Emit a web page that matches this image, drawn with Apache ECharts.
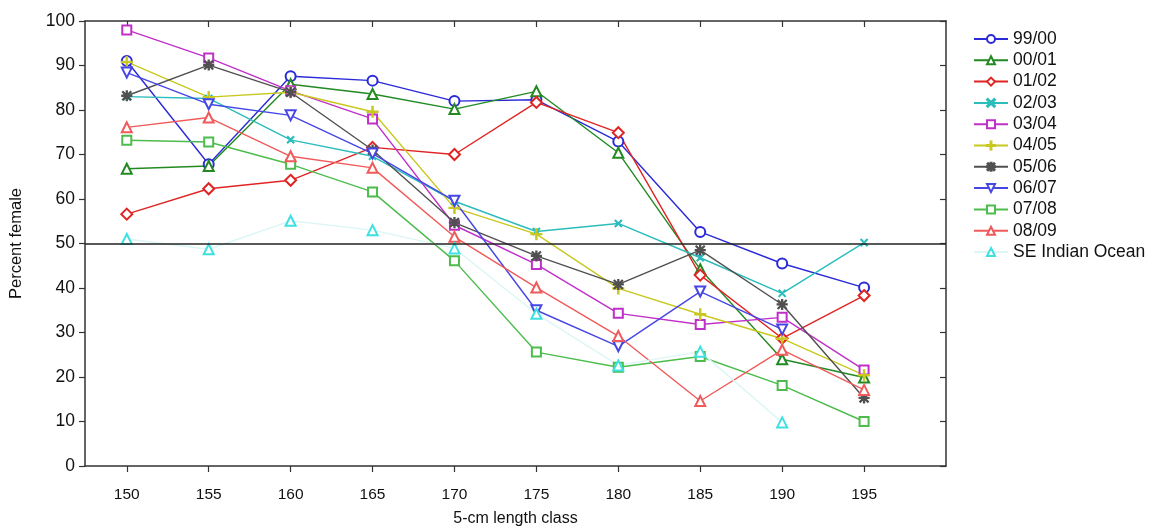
<!DOCTYPE html>
<html>
<head>
<meta charset="utf-8">
<script src="https://cdn.jsdelivr.net/npm/echarts@6/dist/echarts.min.js"></script>
<style>
    html, body { margin: 0; padding: 0; background: #fff; }
    #main { width: 1164px; height: 532px; }
</style>
</head>
<body>
<div id="main"></div>
<script>
    // 5-cm length classes
    var lengths = [150, 155, 160, 165, 170, 175, 180, 185, 190, 195];
    var yTicks = [0, 10, 20, 30, 40, 50, 60, 70, 80, 90, 100];

    // percent female per season
    var s9900 = [91, 67.8, 87.6, 86.6, 82, 82.3, 72.9, 52.6, 45.5, 40.1];
    var s0001 = [66.8, 67.4, 85.8, 83.6, 80.2, 84.2, 70.4, 44.2, 24, 19.9];
    var s0102 = [56.6, 62.3, 64.2, 71.6, 70, 81.7, 74.9, 42.9, 28.7, 38.3];
    var s0203 = [83, 82.6, 73.3, 69.6, 59.5, 52.7, 54.5, 46.8, 38.8, 50.2];
    var s0304 = [98, 91.7, 84.3, 78, 54.1, 45.3, 34.3, 31.8, 33.4, 21.6];
    var s0405 = [90.8, 82.9, 84, 79.6, 58, 52.1, 39.9, 34.1, 28.6, 20.4];
    var s0506 = [83.2, 90.1, 84, 71, 54.7, 47.2, 40.8, 48.5, 36.3, 15.3];
    var s0607 = [88.4, 81.3, 78.8, 70.2, 59.6, 35, 26.9, 39.2, 30.7, null];
    var s0708 = [73.2, 72.8, 67.8, 61.6, 46.1, 25.6, 22.2, 24.6, 18.1, 10];
    var s0809 = [76.1, 78.3, 69.6, 67, 51.5, 40.1, 29.2, 14.6, 26.1, 17.1];
    var seIndian = [51, 48.7, 55.1, 53, 48.9, 34.2, 22.6, 25.7, 9.8, null];

    var crossPath = 'path://M0,1L1,0L10,9L9,10ZM9,0L10,1L1,10L0,9Z';
    var plusPath = 'path://M4.4,0H5.6V4.4H10V5.6H5.6V10H4.4V5.6H0V4.4H4.4Z';
    var starPath = 'path://M4.4,0H5.6V4.4H10V5.6H5.6V10H4.4V5.6H0V4.4H4.4ZM0.5,1.3L1.3,0.5L9.5,8.7L8.7,9.5ZM8.7,0.5L9.5,1.3L1.3,9.5L0.5,8.7Z';

    var seriesDefs = [
        { name: '99/00', data: s9900, color: '#2a2ad8', symbol: 'emptyCircle', size: 10 },
        { name: '00/01', data: s0001, color: '#238a23', symbol: 'emptyTriangle', size: 10 },
        { name: '01/02', data: s0102, color: '#e02424', symbol: 'emptyDiamond', size: 11 },
        { name: '02/03', data: s0203, color: '#2bbcbc', symbol: crossPath, size: 7 },
        { name: '03/04', data: s0304, color: '#c02fc8', symbol: 'emptyRect', size: 9 },
        { name: '04/05', data: s0405, color: '#c8c81e', symbol: plusPath, size: 11 },
        { name: '05/06', data: s0506, color: '#505050', symbol: starPath, size: 10 },
        { name: '06/07', data: s0607, color: '#4646e4', symbol: 'emptyTriangle', size: 10, rotate: 180 },
        { name: '07/08', data: s0708, color: '#4cbc4c', symbol: 'emptyRect', size: 9 },
        { name: '08/09', data: s0809, color: '#f05a5a', symbol: 'emptyTriangle', size: 10 },
        { name: 'SE Indian Ocean', data: seIndian, color: '#3ee0e0', symbol: 'emptyTriangle', size: 10, lineColor: '#dcf6f6' }
    ];

    var series = seriesDefs.map(function (d) {
        return {
            name: d.name,
            type: 'line',
            xAxisIndex: 0,
            yAxisIndex: 0,
            data: lengths.map(function (x, i) { return [x, d.data[i]]; }),
            symbol: d.symbol,
            symbolSize: d.size,
            symbolRotate: d.rotate || 0,
            showSymbol: true,
            connectNulls: false,
            lineStyle: { color: d.lineColor || d.color, width: 1.4 },
            itemStyle: { color: d.color, borderColor: d.color, borderWidth: 1.1 },
            emphasis: { disabled: true }
        };
    });

    // the 50% reference line
    series[0].markLine = {
        silent: true,
        symbol: 'none',
        label: { show: false },
        lineStyle: { color: '#222', type: 'solid', width: 1.5 },
        data: [{ yAxis: 50 }]
    };

    var chart = echarts.init(document.getElementById('main'));
    var option = {
        animation: false,
        backgroundColor: '#fff',
        textStyle: { fontFamily: 'Liberation Sans, Arial, sans-serif' },
        grid: { left: 84, right: 218, top: 21, bottom: 65 },
        legend: {
            orient: 'vertical',
            left: 968,
            top: 25,
            itemWidth: 34,
            itemHeight: 10,
            itemGap: 3.3,
            textStyle: { fontSize: 17.5, color: '#111', lineHeight: 17 },
            data: seriesDefs.map(function (d) { return d.name; })
        },
        xAxis: [{
            type: 'value',
            min: 147.45,
            max: 200,
            name: '5-cm length class',
            nameLocation: 'middle',
            nameGap: 45,
            nameTextStyle: { fontSize: 16, color: '#111' },
            axisLine: { show: true, onZero: false, lineStyle: { color: '#333', width: 1.5 } },
            axisTick: { show: true, length: 6, customValues: lengths, lineStyle: { color: '#333', width: 1.2 } },
            axisLabel: { customValues: lengths, fontSize: 15.5, color: '#111', margin: 21 },
            splitLine: { show: false }
        }, {
            type: 'value',
            position: 'top',
            min: 147.45,
            max: 200,
            axisLine: { show: true, onZero: false, lineStyle: { color: '#333', width: 1.5 } },
            axisTick: { show: true, inside: true, length: 6, customValues: lengths, lineStyle: { color: '#333', width: 1.2 } },
            axisLabel: { show: false },
            splitLine: { show: false }
        }],
        yAxis: [{
            type: 'value',
            min: 0,
            max: 100,
            interval: 10,
            name: 'Percent female',
            nameLocation: 'middle',
            nameGap: 60,
            nameTextStyle: { fontSize: 16.5, color: '#111' },
            axisLine: { show: true, lineStyle: { color: '#333', width: 1.5 } },
            axisTick: { show: true, length: 6, lineStyle: { color: '#333', width: 1.2 } },
            axisLabel: { fontSize: 17.5, color: '#111', margin: 10 },
            splitLine: { show: false }
        }, {
            type: 'value',
            position: 'right',
            min: 0,
            max: 100,
            interval: 10,
            axisLine: { show: true, lineStyle: { color: '#333', width: 1.5 } },
            axisTick: { show: true, inside: true, length: 6, lineStyle: { color: '#333', width: 1.2 } },
            axisLabel: { show: false },
            splitLine: { show: false }
        }],
        series: series
    };
    chart.setOption(option);
</script>
</body>
</html>
